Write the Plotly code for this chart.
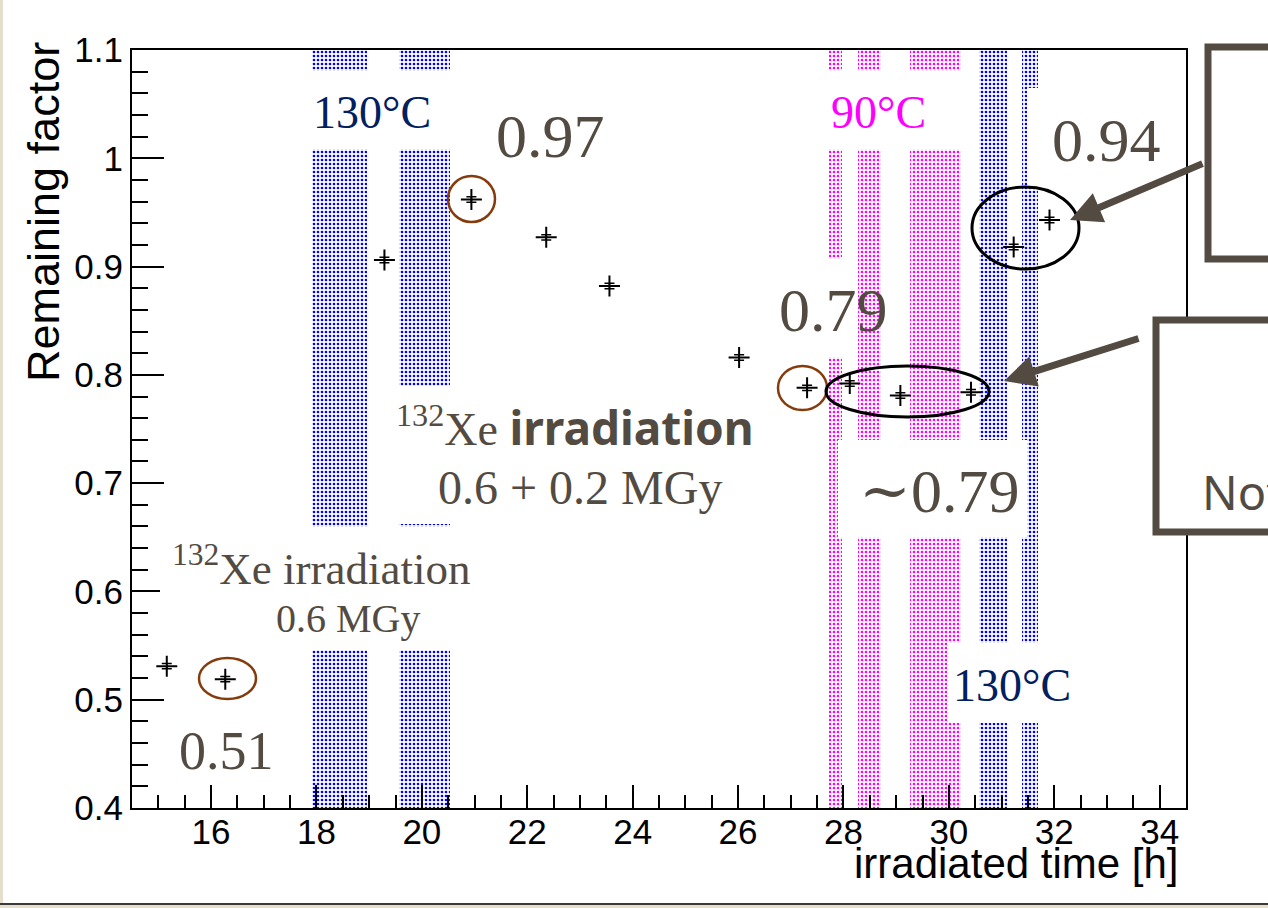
import plotly.graph_objects as go

# ---------------- data ----------------
irradiated_time = [15.16, 16.27, 19.29, 20.94, 22.36, 23.56, 26.02, 27.31, 28.12, 29.08, 30.42, 31.23, 31.91]
remaining_factor = [0.531, 0.519, 0.906, 0.962, 0.927, 0.882, 0.816, 0.788, 0.792, 0.781, 0.784, 0.918, 0.943]
factor_error = [0.0025, 0.0025, 0.0025, 0.0025, 0.0025, 0.0025, 0.0025, 0.0025, 0.0025, 0.0025, 0.0025, 0.0025, 0.0025]

anneal_130_start = [17.92, 19.56, 30.58, 31.39]
anneal_130_end = [18.96, 20.53, 31.10, 31.69]
anneal_90_start = [27.73, 28.27, 29.26]
anneal_90_end = [27.98, 28.71, 30.23]

x_tick_values = [16, 18, 20, 22, 24, 26, 28, 30, 32, 34]
x_tick_labels = ["16", "18", "20", "22", "24", "26", "28", "30", "32", "34"]
y_tick_values = [0.4, 0.5, 0.6, 0.7, 0.8, 0.9, 1.0, 1.1]
y_tick_labels = ["0.4", "0.5", "0.6", "0.7", "0.8", "0.9", "1", "1.1"]

X_RANGE = [14.5, 34.5]
Y_RANGE = [0.4, 1.1]

# ---------------- layout geometry (pixels) ----------------
W, H = 1268, 908
ML, MR, MT, MB = 132, 82, 50, 100
PW, PH = W - ML - MR, H - MT - MB


def px(x):
    return (x - ML) / PW


def py(y):
    return (H - MB - y) / PH


TEXT = "#534b41"
NAVY = "#002060"
MAG = "#ff00ff"
BROWN = "#843c0c"

fig = go.Figure()


def band_trace(starts, ends, color):
    centers = [(s + e) / 2 for s, e in zip(starts, ends)]
    widths = [e - s for s, e in zip(starts, ends)]
    heights = [Y_RANGE[1] - Y_RANGE[0] for _ in starts]
    return go.Bar(
        x=centers, y=heights, width=widths, base=Y_RANGE[0],
        marker=dict(color="white", line=dict(width=0),
                    pattern=dict(shape=".", fgcolor=color, bgcolor="white",
                                 size=4, solidity=0.35, fillmode="replace")),
        showlegend=False, hoverinfo="skip",
    )


fig.add_trace(band_trace(anneal_130_start, anneal_130_end, "#0000ff"))
fig.add_trace(band_trace(anneal_90_start, anneal_90_end, MAG))

fig.add_trace(go.Scatter(
    x=irradiated_time, y=remaining_factor, mode="markers",
    marker=dict(symbol="cross-thin", size=15, line=dict(width=2, color="black"), color="black"),
    error_y=dict(type="data", array=factor_error, visible=True, thickness=1.5, width=5, color="black"),
    showlegend=False,
))

shapes = []

# slide frame pieces
shapes.append(dict(type="rect", xref="paper", yref="paper", x0=px(0), x1=px(3), y0=py(0), y1=py(H),
                   fillcolor="#e6ddcc", line=dict(width=0), layer="above"))
shapes.append(dict(type="rect", xref="paper", yref="paper", x0=px(0), x1=px(W), y0=py(903), y1=py(905),
                   fillcolor="#3a3a3a", line=dict(width=0), layer="above"))
shapes.append(dict(type="rect", xref="paper", yref="paper", x0=px(0), x1=px(W), y0=py(905), y1=py(H),
                   fillcolor="#e6ddcc", line=dict(width=0), layer="above"))

# white text boxes covering the bands
white_boxes = [
    (300, 71, 462, 149),
    (385, 386, 760, 524),
    (160, 527, 480, 650),
    (815, 71, 972, 149),
    (770, 259, 850, 357),
    (838, 440, 1027, 537),
    (947, 643, 1100, 723),
    (1027, 88, 1180, 187),
]
for x0, y0, x1, y1 in white_boxes:
    shapes.append(dict(type="rect", xref="paper", yref="paper", x0=px(x0), x1=px(x1), y0=py(y1), y1=py(y0),
                       fillcolor="white", line=dict(width=0), layer="above"))

# ellipses
ellipses = [
    (199, 658, 256, 699, BROWN, 2.5),
    (448, 176, 495, 222, BROWN, 2.5),
    (778, 366, 827, 410, BROWN, 2.5),
    (826, 366, 989, 417, "black", 3),
    (972, 187, 1079, 269, "black", 3),
]
for x0, y0, x1, y1, c, w in ellipses:
    shapes.append(dict(type="circle", xref="paper", yref="paper", x0=px(x0), x1=px(x1), y0=py(y1), y1=py(y0),
                       line=dict(color=c, width=w), fillcolor="rgba(0,0,0,0)", layer="above"))

# right-hand boxes (cut off by slide edge)
shapes.append(dict(type="rect", xref="paper", yref="paper", x0=px(1208), x1=px(1320), y0=py(259), y1=py(47),
                   line=dict(color=TEXT, width=7), fillcolor="white", layer="above"))
shapes.append(dict(type="rect", xref="paper", yref="paper", x0=px(1156), x1=px(1320), y0=py(532), y1=py(320),
                   line=dict(color=TEXT, width=7), fillcolor="white", layer="above"))

annotations = []


def text(x, y, s, size, color=TEXT, family="Liberation Serif", xanchor="center", angle=0):
    annotations.append(dict(x=px(x), y=py(y), xref="paper", yref="paper", text=s, showarrow=False,
                            xanchor=xanchor, yanchor="middle", textangle=angle,
                            font=dict(family=family, size=size, color=color)))


text(372, 112, "130°C", 46, NAVY)
text(878, 112, "90°C", 46, MAG)
text(1012, 685, "130°C", 46, NAVY)
text(550, 136, "0.97", 62)
text(226, 751, "0.51", 54)
text(833, 310, "0.79", 62)
text(1106, 140, "0.94", 62)
text(939, 490, "<span style='font-family:DejaVu Serif'>~</span>0.79", 62)
text(321, 565, "<sup>132</sup>Xe irradiation", 45)
text(348, 618, "0.6 MGy", 40)
text(575, 427, "<sup>132</sup>Xe <b><span style='font-family:Noto Sans'>irradiation</span></b>", 46)
text(580, 487, "0.6 + 0.2 MGy", 48)
text(1200, 492, "Not", 47, family="Noto Sans", xanchor="left")

# axis titles
text(43, 212, "Remaining factor", 45, color="black", family="Liberation Sans", angle=-90)
text(1016, 863, "irradiated time [h]", 42, color="black", family="Liberation Sans")

# arrows
for hx, hy, tx, ty in [(1070, 220, 1204, 163), (1004, 381, 1140, 338)]:
    annotations.append(dict(x=px(hx), y=py(hy), xref="paper", yref="paper", ax=tx - hx, ay=ty - hy,
                            axref="pixel", ayref="pixel", text="", showarrow=True,
                            arrowhead=2, arrowsize=0.9, arrowwidth=7, arrowcolor=TEXT, standoff=0))

fig.update_layout(
    width=W, height=H,
    margin=dict(l=ML, r=MR, t=MT, b=MB, pad=0),
    paper_bgcolor="white", plot_bgcolor="white",
    barmode="overlay", bargap=0,
    shapes=shapes, annotations=annotations,
    showlegend=False,
    xaxis=dict(range=X_RANGE, tickmode="array", tickvals=x_tick_values, ticktext=x_tick_labels,
               ticks="inside", ticklen=23, tickwidth=2, tickcolor="black",
               minor=dict(ticks="inside", ticklen=13, tickwidth=2, tickcolor="black", dtick=0.5, showgrid=False),
               showline=True, linewidth=2, linecolor="black", mirror=True, showgrid=False, zeroline=False,
               tickfont=dict(family="Liberation Sans", size=35, color="black"), ticklabelstandoff=-8),
    yaxis=dict(range=Y_RANGE, tickmode="array", tickvals=y_tick_values, ticktext=y_tick_labels,
               ticks="inside", ticklen=32, tickwidth=2, tickcolor="black",
               minor=dict(ticks="inside", ticklen=16, tickwidth=2, tickcolor="black", dtick=0.02, showgrid=False),
               showline=True, linewidth=2, linecolor="black", mirror=True, showgrid=False, zeroline=False,
               tickfont=dict(family="Liberation Sans", size=35, color="black"), ticklabelstandoff=0),
)

fig.write_html("out.html", config={"displayModeBar": False})
